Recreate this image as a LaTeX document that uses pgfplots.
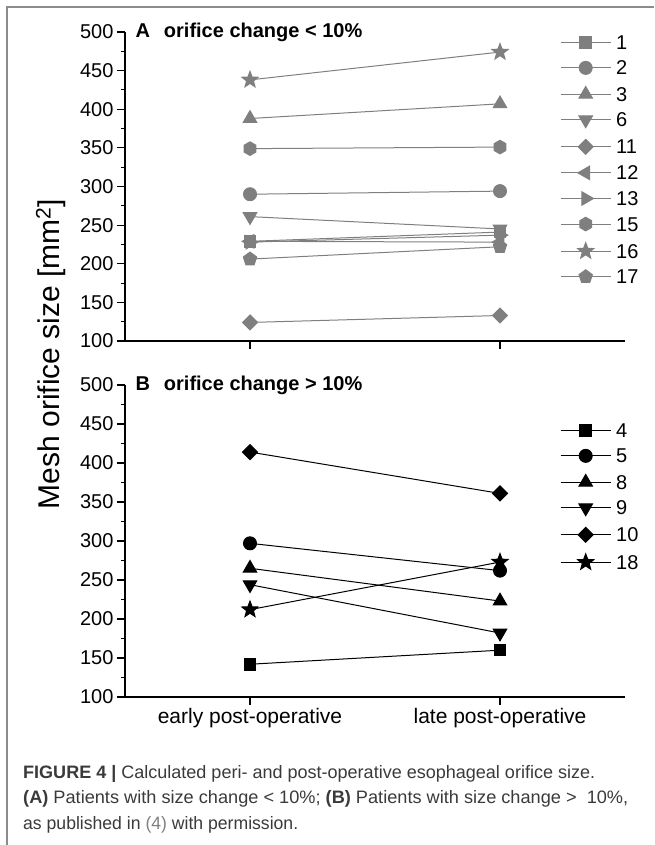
\documentclass[border=0pt]{standalone}
\usepackage{fontspec}
\setmainfont{Liberation Sans}
\usepackage{pgfplots}
\pgfplotsset{compat=1.18}
\usetikzlibrary{plotmarks}

\definecolor{mkgray}{HTML}{7F7F7F}
\definecolor{framegray}{HTML}{8C8C8C}
\definecolor{captext}{HTML}{3A3A3A}

% filled hexagon and five-pointed star marks
\pgfdeclareplotmark{hexa*}{%
  \pgfpathmoveto{\pgfpointpolar{90}{\pgfplotmarksize}}%
  \pgfpathlineto{\pgfpointpolar{150}{\pgfplotmarksize}}%
  \pgfpathlineto{\pgfpointpolar{210}{\pgfplotmarksize}}%
  \pgfpathlineto{\pgfpointpolar{270}{\pgfplotmarksize}}%
  \pgfpathlineto{\pgfpointpolar{330}{\pgfplotmarksize}}%
  \pgfpathlineto{\pgfpointpolar{30}{\pgfplotmarksize}}%
  \pgfpathclose
  \pgfusepathqfillstroke}
\pgfdeclareplotmark{star5*}{%
  \pgfpathmoveto{\pgfpointpolar{90}{\pgfplotmarksize}}%
  \pgfpathlineto{\pgfpointpolar{126}{0.42\pgfplotmarksize}}%
  \pgfpathlineto{\pgfpointpolar{162}{\pgfplotmarksize}}%
  \pgfpathlineto{\pgfpointpolar{198}{0.42\pgfplotmarksize}}%
  \pgfpathlineto{\pgfpointpolar{234}{\pgfplotmarksize}}%
  \pgfpathlineto{\pgfpointpolar{270}{0.42\pgfplotmarksize}}%
  \pgfpathlineto{\pgfpointpolar{306}{\pgfplotmarksize}}%
  \pgfpathlineto{\pgfpointpolar{342}{0.42\pgfplotmarksize}}%
  \pgfpathlineto{\pgfpointpolar{18}{\pgfplotmarksize}}%
  \pgfpathlineto{\pgfpointpolar{54}{0.42\pgfplotmarksize}}%
  \pgfpathclose
  \pgfusepathqfillstroke}

\pgfplotsset{
  panel/.style={
    scale only axis, width=500pt,
    xmin=-0.5, xmax=1.5, ymin=100, ymax=500,
    axis x line*=bottom, axis y line*=left,
    axis line style={black, line width=1.1pt},
    xtick={0,1}, ytick distance=50, minor y tick num=1,
    tick align=outside,
    major tick length=8pt, minor tick length=4pt,
    every tick/.style={black, line width=1.1pt},
    tick label style={font=\fontsize{20}{22}\selectfont},
    /pgf/number format/assume math mode=true,
    clip=false,
    legend cell align=left,
    legend style={draw=none, fill=none, inner sep=0pt, row sep=11.6pt,
      column sep=5pt, anchor=north west,
      font=\fontsize{20}{22}\selectfont,
      nodes={inner sep=0pt, text height=14pt, text depth=0pt}},
    legend image code/.code={%
      \draw[mark repeat=2, mark phase=2, #1]
        plot coordinates {(0pt,0pt) (25pt,0pt) (50pt,0pt)};},
  },
  gry/.style={color=mkgray, line width=1pt, mark options={solid}},
  blk/.style={color=black, line width=1pt, mark options={solid}},
}

\begin{document}
\begin{tikzpicture}[x=1pt, y=1pt]
\useasboundingbox (0,0) rectangle (654,845);
\draw[framegray, line width=1.5pt] (7,0) -- (7,838) -- (654,838);

% panel A
\begin{axis}[panel, at={(125pt,504pt)}, anchor=south west, height=309pt,
  xticklabels={,},
  legend style={at={(rel axis cs:0.87,0.99)}}]
\addplot[gry, mark=square*, mark size=5.8pt] coordinates {(0,229) (1,241)};
\addplot[gry, mark=*, mark size=6.5pt] coordinates {(0,290) (1,294)};
\addplot[gry, mark=triangle*, mark size=7.8pt] coordinates {(0,388) (1,407)};
\addplot[gry, mark=triangle*, mark size=7.8pt, mark options={rotate=180}] coordinates {(0,261) (1,245)};
\addplot[gry, mark=square*, mark size=5.3pt, mark options={rotate=45}] coordinates {(0,124) (1,133)};
\addplot[gry, mark=triangle*, mark size=7.8pt, mark options={rotate=90}] coordinates {(0,229) (1,228)};
\addplot[gry, mark=triangle*, mark size=7.8pt, mark options={rotate=-90}] coordinates {(0,228) (1,237)};
\addplot[gry, mark=hexa*, mark size=6.8pt] coordinates {(0,349) (1,351)};
\addplot[gry, mark=star5*, mark size=8.5pt] coordinates {(0,438) (1,474)};
\addplot[gry, mark=pentagon*, mark size=7pt] coordinates {(0,206) (1,222)};
\legend{1,2,3,6,11,12,13,15,16,17}
\node[anchor=west, font=\bfseries\fontsize{20}{22}\selectfont, xshift=7pt]
  at (rel axis cs:0,1) {A\hspace{14pt}orifice change < 10\%};
\end{axis}

% panel B
\begin{axis}[panel, at={(125pt,148pt)}, anchor=south west, height=312pt,
  xticklabels={early post-operative, late post-operative},
  xticklabel style={font=\fontsize{21}{23}\selectfont},
  legend style={at={(rel axis cs:0.87,0.878)}}]
\addplot[blk, mark=square*, mark size=5.8pt] coordinates {(0,142) (1,160)};
\addplot[blk, mark=*, mark size=6.5pt] coordinates {(0,297) (1,262)};
\addplot[blk, mark=triangle*, mark size=7.8pt] coordinates {(0,265) (1,223)};
\addplot[blk, mark=triangle*, mark size=7.8pt, mark options={rotate=180}] coordinates {(0,244) (1,182)};
\addplot[blk, mark=square*, mark size=5.3pt, mark options={rotate=45}] coordinates {(0,414) (1,361)};
\addplot[blk, mark=star5*, mark size=8.5pt] coordinates {(0,212) (1,273)};
\legend{4,5,8,9,10,18}
\node[anchor=west, font=\bfseries\fontsize{20}{22}\selectfont, xshift=7pt]
  at (rel axis cs:0,1) {B\hspace{14pt}orifice change > 10\%};
\end{axis}

\node[rotate=90, font=\fontsize{30}{32}\selectfont] at (51,491)
  {Mesh orifice size [mm\textsuperscript{2}]};

% caption
\begin{scope}[every node/.style={anchor=base west, inner sep=0pt,
    text=captext, font=\fontsize{18}{20}\selectfont}]
\node at (23,66) {\resizebox{572pt}{\height}{\textbf{FIGURE 4 |} Calculated peri- and post-operative esophageal orifice size.}};
\node at (23,41) {\resizebox{605pt}{\height}{\textbf{(A)} Patients with size change < 10\%; \textbf{(B)} Patients with size change >\ \ 10\%,}};
\node at (23,16) {\resizebox{275pt}{\height}{as published in {\color{gray}(4)} with permission.}};
\end{scope}
\end{tikzpicture}
\end{document}
